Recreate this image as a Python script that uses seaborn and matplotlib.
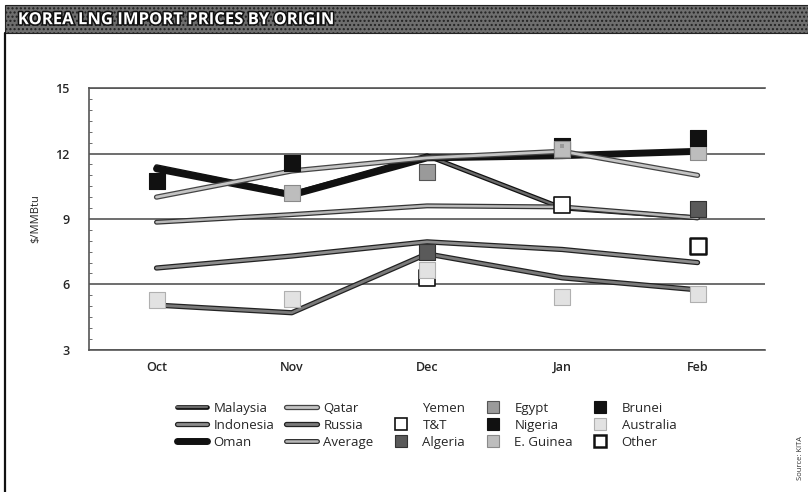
import numpy as np
import pandas as pd
import matplotlib
matplotlib.use("Agg")
import matplotlib.pyplot as plt
import matplotlib.patheffects as pe
from matplotlib.lines import Line2D
from matplotlib.patches import Rectangle
from matplotlib.ticker import MultipleLocator
import seaborn as sns

# Months and line series ($/MMBtu)
months = ["Oct", "Nov", "Dec", "Jan", "Feb"]
malaysia = [11.4, 10.15, 11.9, 9.5, 9.05]
indonesia = [6.75, 7.3, 7.95, 7.6, 7.0]
oman = [11.3, 10.1, 11.8, 11.9, 12.1]
qatar = [10.0, 11.2, 11.8, 12.1, 11.0]
russia = [5.05, 4.7, 7.4, 6.3, 5.75]
average = [8.85, 9.2, 9.6, 9.55, 9.05]

# Marker series (None = no cargo)
yemen = [None, None, None, None, None]
tt = [None, None, 6.3, 9.65, None]
algeria = [None, None, 7.5, None, 9.45]
egypt = [None, None, 11.15, 12.15, None]
nigeria = [None, None, None, 12.35, None]
eguinea = [None, 10.2, None, 12.2, 12.05]
brunei = [10.75, 11.55, None, None, 12.7]
australia = [5.3, 5.35, 6.65, 5.4, 5.55]
other = [None, None, None, None, 7.75]

line_series = {
    "Malaysia": malaysia, "Indonesia": indonesia, "Oman": oman,
    "Qatar": qatar, "Russia": russia, "Average": average,
}
marker_series = {
    "Yemen": yemen, "T&T": tt, "Algeria": algeria,
    "Egypt": egypt, "Nigeria": nigeria, "E. Guinea": eguinea,
    "Brunei": brunei, "Australia": australia, "Other": other,
}

# styles: (face colour, edge colour, core width)
line_style = {
    "Malaysia": ("#6a6a6a", "#111111", 1.6),
    "Indonesia": ("#8c8c8c", "#222222", 2.0),
    "Oman": ("#111111", "#111111", 3.2),
    "Qatar": ("#c4c4c4", "#444444", 2.0),
    "Russia": ("#7a7a7a", "#222222", 2.0),
    "Average": ("#b8b8b8", "#333333", 1.8),
}
marker_style = {
    "Yemen": ("none", "none", 0.0),
    "T&T": ("white", "#111111", 1.2),
    "Algeria": ("#5a5a5a", "#333333", 0.8),
    "Egypt": ("#9a9a9a", "#555555", 0.8),
    "Nigeria": ("#111111", "#111111", 0.8),
    "E. Guinea": ("#bdbdbd", "#8a8a8a", 0.8),
    "Brunei": ("#111111", "#111111", 0.8),
    "Australia": ("#e2e2e2", "#b0b0b0", 0.8),
    "Other": ("white", "#111111", 1.8),
}

sns.set_theme(style="white")
plt.rcParams["font.family"] = ["Open Sans", "DejaVu Sans"]

fig = plt.figure(figsize=(8.08, 4.92), dpi=100)
ax = fig.add_axes([0.110, 0.289, 0.837, 0.532])

for name, vals in line_series.items():
    face, edge, w = line_style[name]
    df = pd.DataFrame({"month": months, "price": vals})
    sns.lineplot(data=df, x="month", y="price", ax=ax, color=face,
                 linewidth=w, sort=False, zorder=3)
    ln = ax.lines[-1]
    ln.set_solid_capstyle("round")
    ln.set_path_effects([pe.Stroke(linewidth=w + 1.8, foreground=edge),
                         pe.Normal()])

for name, vals in marker_series.items():
    face, edge, w = marker_style[name]
    df = pd.DataFrame({"month": months, "price": vals}).dropna()
    if df.empty:
        continue
    sns.scatterplot(data=df, x="month", y="price", ax=ax, marker="s",
                    s=140, color=face, edgecolor=edge, linewidth=w, zorder=4)
    if name == "Nigeria":
        sns.scatterplot(data=df, x="month", y="price", ax=ax, marker="s",
                        s=6, color="#999999", linewidth=0, zorder=5)

ax.set_xlim(-0.5, 4.5)
ax.set_ylim(3, 15)
ax.yaxis.set_major_locator(MultipleLocator(3))
ax.yaxis.set_minor_locator(MultipleLocator(0.5))
ax.grid(axis="y", which="major", color="#555555", linewidth=1.2, zorder=1)
ax.grid(axis="x", visible=False)
for side in ["left", "top", "bottom"]:
    ax.spines[side].set_visible(True)
    ax.spines[side].set_color("#555555")
    ax.spines[side].set_linewidth(1.2)
ax.spines["right"].set_visible(False)
ax.tick_params(axis="y", which="major", length=0, labelsize=9, pad=14)
ax.tick_params(axis="y", which="minor", length=2, width=0.6,
               color="#555555", direction="in", left=True)
ax.tick_params(axis="x", length=0, labelsize=9, pad=8)
for lab in ax.get_xticklabels() + ax.get_yticklabels():
    lab.set_fontweight("semibold")
ax.set_xlabel("")
ax.set_ylabel("$/MMBtu", fontsize=8, labelpad=10)

# legend
handles = []
for name in line_series:
    face, edge, w = line_style[name]
    h = Line2D([0], [0], color=face, linewidth=w,
               path_effects=[pe.Stroke(linewidth=w + 1.8, foreground=edge),
                             pe.Normal()])
    handles.append((h, name))
for name in marker_series:
    face, edge, w = marker_style[name]
    h = Line2D([0], [0], linestyle="none", marker="s", markersize=9,
               markerfacecolor=face, markeredgecolor=edge,
               markeredgewidth=max(w, 0.01))
    handles.append((h, name))
fig.legend([h for h, _ in handles], [n for _, n in handles],
           loc="center", bbox_to_anchor=(0.528, 0.136), ncol=5,
           frameon=False, fontsize=9.5, handlelength=2.3,
           columnspacing=0.9, handletextpad=0.5, labelspacing=0.3)

# title band
band = Rectangle((0.006, 0.933), 0.994, 0.057, transform=fig.transFigure,
                 facecolor="#6e6e6e", edgecolor="#222222", hatch="....",
                 linewidth=0.8)
fig.patches.append(band)
fig.text(0.022, 0.961, "KOREA LNG IMPORT PRICES BY ORIGIN", color="white",
         fontsize=12, fontweight="bold", va="center", ha="left",
         path_effects=[pe.Stroke(linewidth=2.2, foreground="#111111"),
                       pe.Normal()])
fig.add_artist(Line2D([0.006, 0.006], [0.0, 0.933], color="#111111",
                      linewidth=1.6, transform=fig.transFigure))
fig.text(0.991, 0.07, "Source: KITA", rotation=90, fontsize=5.5,
         ha="center", va="center", color="#333333")

fig.savefig("out.png", dpi=100)
